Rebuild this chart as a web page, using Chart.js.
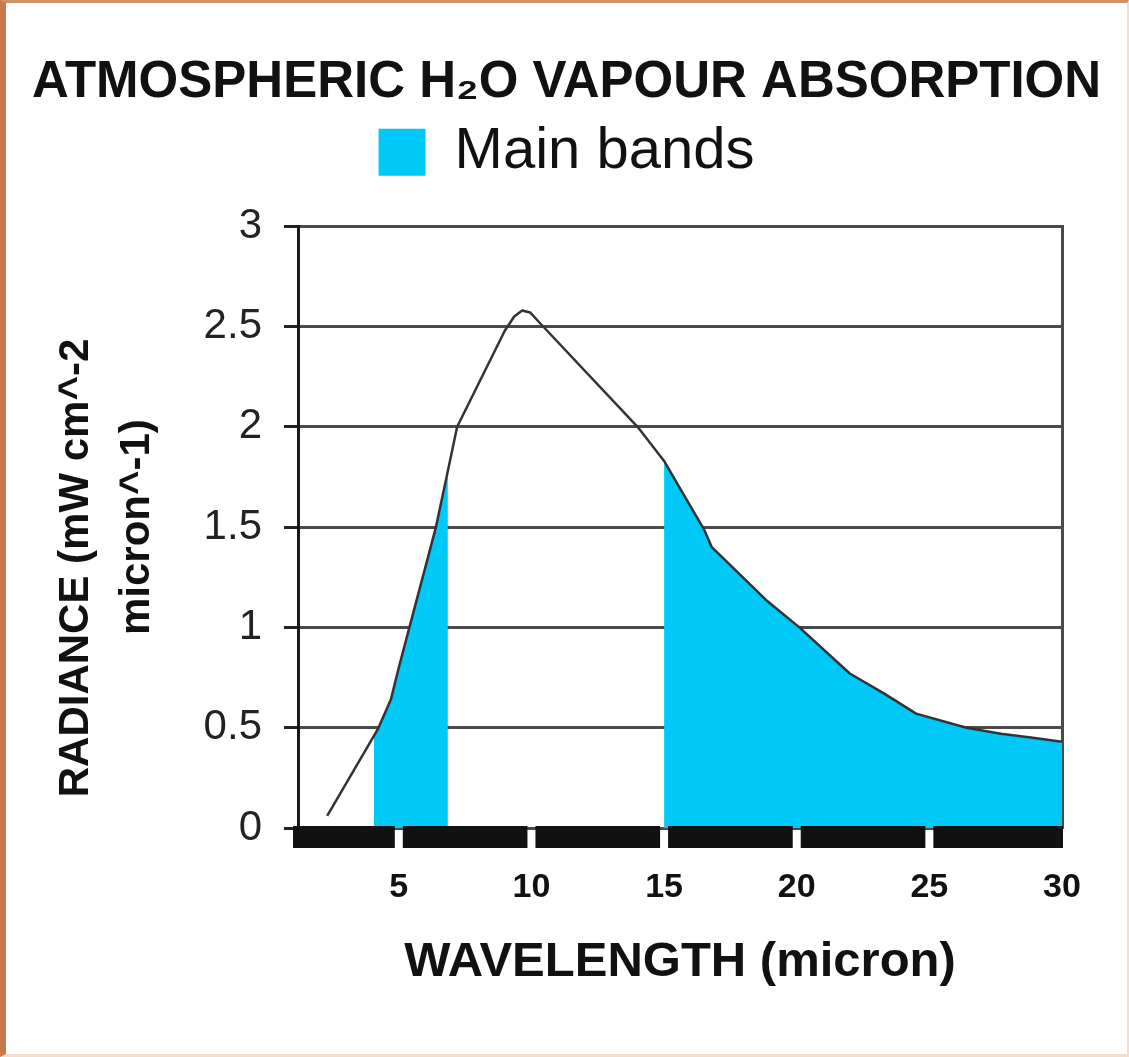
<!DOCTYPE html>
<html>
<head>
<meta charset="utf-8">
<script src="https://cdn.jsdelivr.net/npm/chart.js@4.4.1/dist/chart.umd.min.js"></script>
<style>
  html, body { margin: 0; padding: 0; background: #ffffff; }
  #frame {
    position: absolute; left: 0; top: 0; width: 1129px; height: 1057px;
    box-sizing: border-box; background: #ffffff;
    border-left: 6px solid #c67b4f; border-top: 3px solid #d09068;
    border-right: 2px solid #f3dccd; border-bottom: 3px solid #f6dccb;
  }
  canvas { display: block; }
</style>
</head>
<body>
<div id="frame"><canvas id="c" width="1121" height="1051"></canvas></div>
<script>
// ---- data ----
const curveX = [2.3, 4.2, 4.7, 5.0, 5.4, 6.4, 6.8, 7.2, 9.0, 9.35, 9.65, 9.95, 10.3, 14.0, 15.0, 15.7, 16.5, 16.8, 18.9, 20.1, 22.0, 23.3, 24.5, 26.4, 27.7, 28.9, 30.0];
const curveY = [0.06, 0.49, 0.64, 0.80, 1.00, 1.50, 1.75, 2.00, 2.48, 2.55, 2.58, 2.57, 2.52, 2.00, 1.83, 1.67, 1.49, 1.40, 1.13, 1.00, 0.77, 0.67, 0.57, 0.50, 0.47, 0.45, 0.43];
const bandOneX = [4.06, 4.2, 4.7, 5.0, 5.4, 6.4, 6.85];
const bandOneY = [0.46, 0.49, 0.64, 0.80, 1.00, 1.50, 1.76];
const bandTwoX = [15.0, 15.7, 16.5, 16.8, 18.9, 20.1, 22.0, 23.3, 24.5, 26.4, 27.7, 28.9, 30.0];
const bandTwoY = [1.83, 1.67, 1.49, 1.40, 1.13, 1.00, 0.77, 0.67, 0.57, 0.50, 0.47, 0.45, 0.43];
const xTickValues = [5, 10, 15, 20, 25, 30];
const yTickValues = [0, 0.5, 1, 1.5, 2, 2.5, 3];
const titleText = 'ATMOSPHERIC H\u2082O VAPOUR ABSORPTION';
const legendLabel = 'Main bands';
const xTitle = 'WAVELENGTH (micron)';
const yTitle = ['RADIANCE (mW cm^-2\u00a0\u00a0\u00a0\u00a0\u00a0\u00a0\u00a0', 'micron^-1)'];

const toPts = (xs, ys) => xs.map((x, i) => ({ x: x, y: ys[i] }));
const FONT = "'Liberation Sans', Arial, Helvetica, sans-serif";
const CYAN = '#00c9f7';

// black segmented bar under the zero line, split at each x tick
const segmentBar = {
  id: 'segmentBar',
  afterDatasetsDraw(chart) {
    const { ctx, chartArea, scales } = chart;
    const xs = scales.x;
    const top = chartArea.bottom - 2;
    const h = 22;
    const gap = 8;
    const edges = [chartArea.left - 5];
    xs.ticks.forEach(t => {
      const p = xs.getPixelForValue(t.value);
      if (p < chartArea.right - 2) { edges.push(p - gap / 2); edges.push(p + gap / 2); }
    });
    edges.push(chartArea.right + 1);
    ctx.save();
    ctx.fillStyle = '#111111';
    for (let i = 0; i < edges.length; i += 2) {
      ctx.fillRect(edges[i], top, edges[i + 1] - edges[i], h);
    }
    ctx.restore();
  }
};

new Chart(document.getElementById('c'), {
  type: 'line',
  data: {
    datasets: [
      {
        label: 'Radiance',
        data: toPts(curveX, curveY),
        borderColor: '#333333',
        borderWidth: 2.5,
        pointRadius: 0,
        tension: 0,
        borderJoinStyle: 'round',
        fill: false
      },
      {
        label: legendLabel,
        data: toPts(bandOneX, bandOneY),
        backgroundColor: CYAN,
        borderColor: CYAN,
        borderWidth: 0,
        pointRadius: 0,
        tension: 0,
        fill: 'origin'
      },
      {
        label: legendLabel + ' 2',
        data: toPts(bandTwoX, bandTwoY),
        backgroundColor: CYAN,
        borderColor: CYAN,
        borderWidth: 0,
        pointRadius: 0,
        tension: 0,
        fill: 'origin'
      }
    ]
  },
  options: {
    responsive: false,
    animation: false,
    devicePixelRatio: 1,
    layout: { padding: { left: 0, right: 0, top: 0, bottom: 0 } },
    plugins: {
      tooltip: { enabled: false },
      title: {
        display: true,
        text: titleText,
        color: '#111111',
        font: { family: FONT, size: 51, weight: 'bold', lineHeight: 1.2 },
        padding: { top: 49, bottom: 0 }
      },
      subtitle: {
        display: true,
        text: ' ',
        weight: 500,
        font: { size: 1, lineHeight: 1 },
        padding: { top: 34, bottom: 0 }
      },
      legend: {
        display: true,
        labels: {
          filter: item => item.datasetIndex === 1,
          boxWidth: 47,
          boxHeight: 47,
          color: '#111111',
          padding: 10,
          font: { family: FONT, size: 58 }
        }
      }
    },
    scales: {
      x: {
        type: 'linear',
        min: 1.2,
        max: 30,
        afterBuildTicks: s => { s.ticks = xTickValues.map(v => ({ value: v })); },
        afterFit: s => { s.height = 226; },
        grid: { display: false, drawTicks: false },
        border: { display: false },
        ticks: {
          padding: 39,
          color: '#111111',
          font: { family: FONT, size: 34, weight: 'bold' },
          maxRotation: 0
        },
        title: {
          display: true,
          text: xTitle,
          color: '#111111',
          font: { family: FONT, size: 49, weight: 'bold', lineHeight: 1.2 },
          padding: { top: 0, bottom: 62 }
        }
      },
      y: {
        min: 0,
        max: 3,
        afterBuildTicks: s => { s.ticks = yTickValues.map(v => ({ value: v })); },
        afterFit: s => { s.width = 292; },
        grid: { color: '#4a4a4a', lineWidth: 3, tickLength: 14, tickColor: '#222222', tickWidth: 3 },
        border: { color: '#1a1a1a', width: 3 },
        ticks: {
          padding: 22,
          color: '#222222',
          font: { family: FONT, size: 42 },
          callback: v => String(v)
        },
        title: {
          display: true,
          text: yTitle,
          color: '#111111',
          font: { family: FONT, size: 42, weight: 'bold', lineHeight: 1.45 },
          padding: { top: 40, bottom: 0 }
        }
      },
      y2: {
        position: 'right',
        min: 0,
        max: 3,
        afterFit: s => { s.width = 65; },
        grid: { drawOnChartArea: false, drawTicks: false },
        border: { color: '#4a4a4a', width: 3 },
        ticks: { display: false }
      }
    }
  },
  plugins: [segmentBar]
});
</script>
</body>
</html>
